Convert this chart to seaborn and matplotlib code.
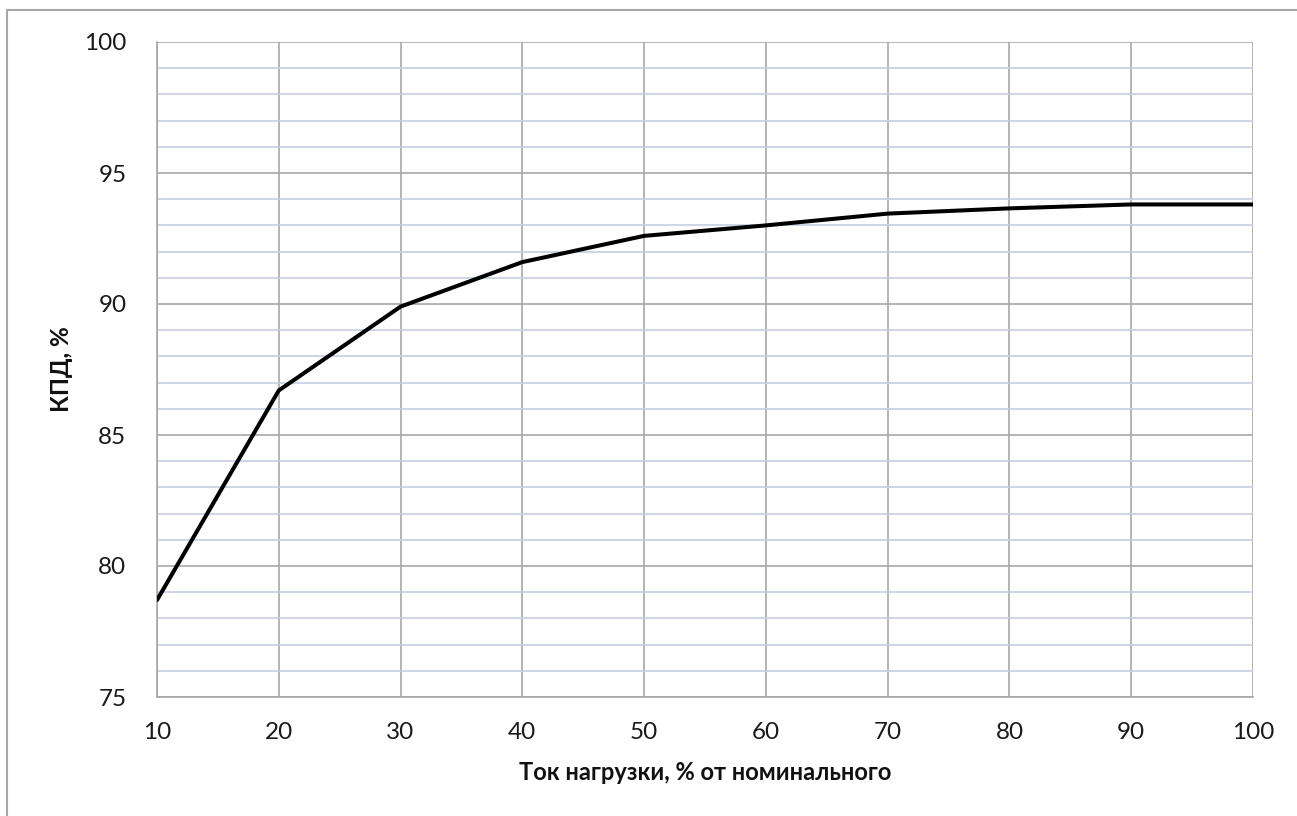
import matplotlib
matplotlib.use("Agg")
import matplotlib.pyplot as plt
import seaborn as sns
import pandas as pd
from matplotlib.lines import Line2D
from matplotlib.ticker import MultipleLocator

load_pct = [10, 20, 30, 40, 50, 60, 70, 80, 90, 100]
efficiency = [78.7, 86.7, 89.9, 91.6, 92.6, 93.0, 93.45, 93.65, 93.8, 93.8]
x_ticks = [10, 20, 30, 40, 50, 60, 70, 80, 90, 100]
y_ticks = [75, 80, 85, 90, 95, 100]
x_label = "Ток нагрузки, % от номинального"
y_label = "КПД, %"

sns.set_style("white")
plt.rcParams['font.family'] = ['Lato', 'DejaVu Sans']

df = pd.DataFrame({"load": load_pct, "eff": efficiency})

fig = plt.figure(figsize=(12.97, 8.16), dpi=100)
ax = fig.add_axes([157/1297, 1 - 697/816, (1253-157)/1297, (697-42)/816])

ax.set_xlim(10, 100)
ax.set_ylim(75, 100)
ax.set_xticks(x_ticks)
ax.set_yticks(y_ticks)
ax.yaxis.set_minor_locator(MultipleLocator(1))

ax.grid(which="minor", axis="y", color="#c7cde0", linewidth=1.2)
ax.grid(which="major", axis="both", color="#a8a8a8", linewidth=1.2)
ax.set_axisbelow(True)

sns.lineplot(data=df, x="load", y="eff", ax=ax, color="black", linewidth=2.9,
             solid_joinstyle="miter", zorder=5)

for s in ["top", "right"]:
    ax.spines[s].set_visible(False)
for s in ["left", "bottom"]:
    ax.spines[s].set_color("#a8a8a8")
    ax.spines[s].set_linewidth(1.2)

ax.tick_params(axis="y", which="major", direction="out", length=6, width=1.0,
               color="#a8a8a8", labelsize=17.5, labelcolor="#1a1a1a", pad=16)
ax.tick_params(axis="y", which="minor", direction="out", length=6, width=1.0, color="#a8a8a8")
ax.tick_params(axis="x", which="major", direction="out", length=8, width=1.0,
               color="#a8a8a8", labelsize=17.5, labelcolor="#1a1a1a", pad=10)

ax.set_xlabel(x_label, fontsize=17, fontweight="bold", color="#111111", labelpad=13)
ax.set_ylabel(y_label, fontsize=17.5, fontweight="bold", color="#111111", labelpad=8)

# outer chart border (top and left visible)
fig.add_artist(Line2D([7/1297, 1.0], [1 - 10/816, 1 - 10/816], transform=fig.transFigure,
                      color="#a6a6a6", linewidth=1.5))
fig.add_artist(Line2D([7/1297, 7/1297], [0.0, 1 - 10/816], transform=fig.transFigure,
                      color="#a6a6a6", linewidth=1.5))

fig.savefig("out.png", dpi=100, facecolor="white")
